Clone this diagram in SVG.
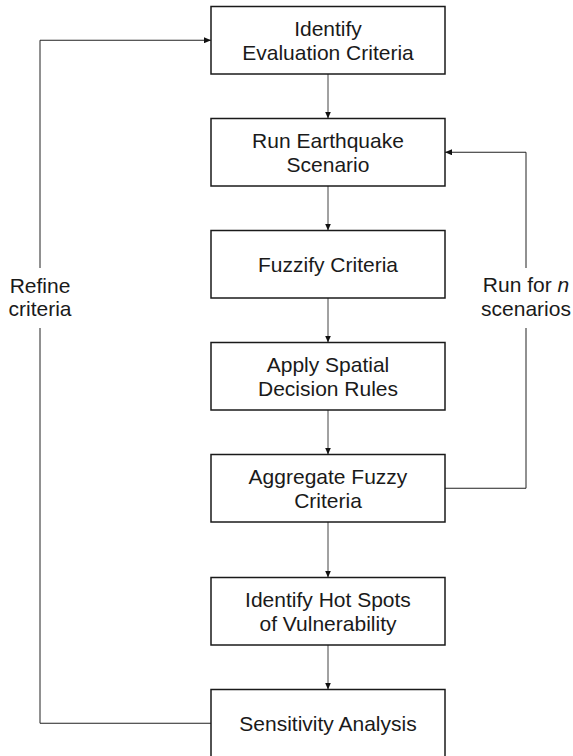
<svg xmlns="http://www.w3.org/2000/svg" width="573" height="756" viewBox="0 0 573 756">
  <defs>
    <marker id="arrow" markerUnits="userSpaceOnUse" markerWidth="7" markerHeight="6" refX="7" refY="3" orient="auto">
      <path d="M0,0 L7,3 L0,6 z" fill="#111"/>
    </marker>
    <style>
      .box rect { fill: #fff; stroke: #1a1a1a; stroke-width: 1.5; }
      .box text, .label { font-family: "Liberation Sans", Arial, sans-serif; font-size: 21px; fill: #1a1a1a; text-anchor: middle; }
      .flow { fill: none; stroke: #444; stroke-width: 1; }
      .loop { fill: none; stroke: #222; stroke-width: 1; }
    </style>
  </defs>
  <rect width="573" height="756" fill="#fff"/>

  <!-- connectors -->
  <g id="connectors">
    <path class="flow" d="M328,74 V118.5" marker-end="url(#arrow)"/>
    <path class="flow" d="M328,186 V230.5" marker-end="url(#arrow)"/>
    <path class="flow" d="M328,298 V342.5" marker-end="url(#arrow)"/>
    <path class="flow" d="M328,410 V454.5" marker-end="url(#arrow)"/>
    <path class="flow" d="M328,522 V577.5" marker-end="url(#arrow)"/>
    <path class="flow" d="M328,645 V689.5" marker-end="url(#arrow)"/>
    <!-- scenario loop -->
    <path class="loop" d="M445,488.25 H526 V328"/>
    <path class="loop" d="M526,268 V152.25 H445" marker-end="url(#arrow)"/>
    <!-- refinement loop -->
    <path class="loop" d="M211,723.25 H40 V328"/>
    <path class="loop" d="M40,268 V40.25 H211" marker-end="url(#arrow)"/>
    <text class="label" x="40" y="292.5">Refine</text>
    <text class="label" x="40" y="315.5">criteria</text>
    <text class="label" x="526" y="292">Run for <tspan font-style="italic">n</tspan></text>
    <text class="label" x="526" y="315.5">scenarios</text>
  </g>

  <g id="identify-criteria" class="box">
    <rect x="211" y="6.5" width="234" height="67.5"/>
    <text x="328" y="35.75">Identify</text>
    <text x="328" y="59.75">Evaluation Criteria</text>
  </g>
  <g id="run-scenario" class="box">
    <rect x="211" y="118.5" width="234" height="67.5"/>
    <text x="328" y="147.75">Run Earthquake</text>
    <text x="328" y="171.75">Scenario</text>
  </g>
  <g id="fuzzify" class="box">
    <rect x="211" y="230.5" width="234" height="67.5"/>
    <text x="328" y="271.75">Fuzzify Criteria</text>
  </g>
  <g id="decision-rules" class="box">
    <rect x="211" y="342.5" width="234" height="67.5"/>
    <text x="328" y="371.75">Apply Spatial</text>
    <text x="328" y="395.75">Decision Rules</text>
  </g>
  <g id="aggregate" class="box">
    <rect x="211" y="454.5" width="234" height="67.5"/>
    <text x="328" y="483.75">Aggregate Fuzzy</text>
    <text x="328" y="507.75">Criteria</text>
  </g>
  <g id="hot-spots" class="box">
    <rect x="211" y="577.5" width="234" height="67.5"/>
    <text x="328" y="606.75">Identify Hot Spots</text>
    <text x="328" y="630.75">of Vulnerability</text>
  </g>
  <g id="sensitivity" class="box">
    <rect x="211" y="689.5" width="234" height="68"/>
    <text x="328" y="730.75">Sensitivity Analysis</text>
  </g>
</svg>
